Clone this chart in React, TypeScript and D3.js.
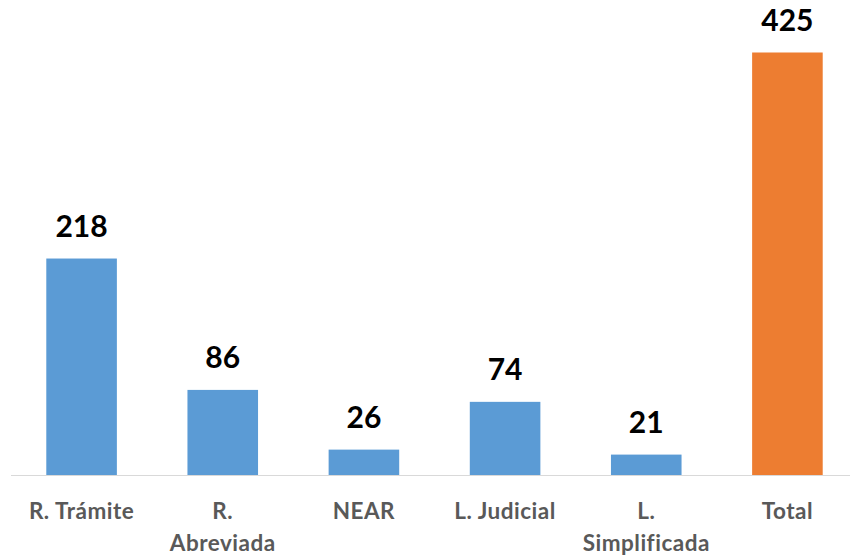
import React from "react";
import * as d3 from "d3";

const categories: string[][] = [
  ["R. Trámite"],
  ["R.", "Abreviada"],
  ["NEAR"],
  ["L. Judicial"],
  ["L.", "Simplificada"],
  ["Total"],
];
const values: number[] = [218, 86, 26, 74, 21, 425];
const colors: string[] = ["#5B9BD5", "#5B9BD5", "#5B9BD5", "#5B9BD5", "#5B9BD5", "#ED7D31"];

const W = 850;
const H = 555;
const FONT = "Lato, Carlito, Calibri, sans-serif";

export default function App() {
  const idx = values.map((_, i) => i);
  const x = d3
    .scaleBand<number>()
    .domain(idx)
    .range([11, 858])
    .paddingInner(0.5)
    .paddingOuter(0.25);
  const y = d3.scaleLinear().domain([0, 425]).range([475.5, 52.5]);

  return (
    <svg
      width={W}
      height={H}
      style={{ position: "absolute", left: 0, top: 0, background: "#fff" }}
      fontFamily={FONT}
    >
      {idx.map((i) => (
        <rect
          key={"b" + i}
          x={x(i)}
          y={y(values[i])}
          width={x.bandwidth()}
          height={y(0) - y(values[i])}
          fill={colors[i]}
        />
      ))}
      <line x1={11} x2={W} y1={y(0)} y2={y(0)} stroke="#d9d9d9" strokeWidth={1} />
      {idx.map((i) => (
        <text
          key={"v" + i}
          x={(x(i) as number) + x.bandwidth() / 2}
          y={y(values[i]) - 22}
          textAnchor="middle"
          fontSize={30}
          fontWeight="bold"
          fill="#000"
        >
          {values[i]}
        </text>
      ))}
      {idx.map((i) => (
        <text
          key={"c" + i}
          x={(x(i) as number) + x.bandwidth() / 2}
          y={519}
          textAnchor="middle"
          fontSize={22.5}
          fontWeight="bold"
          letterSpacing={0.5}
          fill="#595959"
        >
          {categories[i].map((line, j) => (
            <tspan key={j} x={(x(i) as number) + x.bandwidth() / 2} dy={j === 0 ? 0 : 32}>
              {line}
            </tspan>
          ))}
        </text>
      ))}
    </svg>
  );
}
